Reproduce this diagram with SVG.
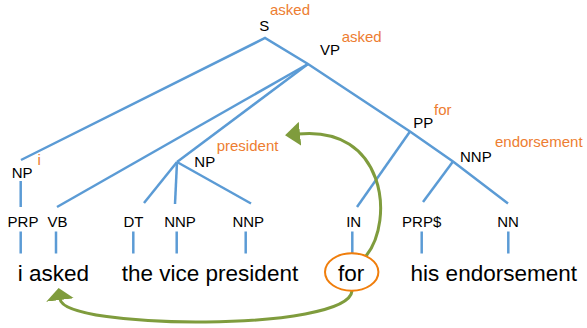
<svg xmlns="http://www.w3.org/2000/svg" width="587" height="328" viewBox="0 0 587 328">
<style>
.e{stroke:#5B9BD5;stroke-width:2.5;fill:none;stroke-linecap:butt}
.lab{font-family:"Liberation Sans",Arial,sans-serif;font-size:15px;fill:#000}
.sup{font-family:"Liberation Sans",Arial,sans-serif;font-size:15px;fill:#ED7D31}
.w{font-family:"Liberation Sans",Arial,sans-serif;font-size:22.5px;fill:#000;text-anchor:middle}
.pos{text-anchor:middle}
.g{stroke:#7F9C3D;stroke-width:3;fill:none}
</style>
<defs>
<marker id="ah" markerUnits="userSpaceOnUse" markerWidth="16" markerHeight="24" viewBox="0 0 16 24" refX="2" refY="12" orient="auto">
<path d="M0,0 L15,12 L0,24 z" fill="#7F9C3D"/>
</marker>
<marker id="ah2" markerUnits="userSpaceOnUse" markerWidth="14" markerHeight="28" viewBox="0 0 14 28" refX="1" refY="14" orient="auto">
<path d="M0,0 L12,14 L0,28 z" fill="#7F9C3D"/>
</marker>
</defs>
<g id="connectors">
<polyline class="e" points="21,160 265,38 308,64 410,131.5 453,161.5 508,203.5"/>
<line class="e" x1="308" y1="64" x2="57" y2="207"/>
<line class="e" x1="308" y1="64" x2="177" y2="162"/>
<line class="e" x1="177" y1="162" x2="144" y2="203"/>
<line class="e" x1="177" y1="162" x2="175" y2="204"/>
<line class="e" x1="177" y1="162" x2="251" y2="203.5"/>
<line class="e" x1="410" y1="131.5" x2="357" y2="207"/>
<line class="e" x1="453" y1="161.5" x2="423" y2="202"/>
<line class="e" x1="20.7" y1="181" x2="20.7" y2="207"/>
<line class="e" x1="20.7" y1="231.5" x2="20.7" y2="253.5"/>
<line class="e" x1="56" y1="231.5" x2="56" y2="253.5"/>
<line class="e" x1="133.3" y1="231.5" x2="133.3" y2="253.5"/>
<line class="e" x1="176.7" y1="231.5" x2="176.7" y2="253.5"/>
<line class="e" x1="245.7" y1="231.5" x2="245.7" y2="253.5"/>
<line class="e" x1="352.3" y1="231.5" x2="352.3" y2="253.5"/>
<line class="e" x1="421.7" y1="231.5" x2="421.7" y2="253.5"/>
<line class="e" x1="508.3" y1="231.5" x2="508.3" y2="253.5"/>
<path class="g" d="M366,256 C395,220 385,125 298,134" marker-end="url(#ah)"/>
<path class="g" d="M352,291 C348,332 64,330 60,299" marker-end="url(#ah2)"/>
</g>
<g id="S"><text class="lab" x="259.3" y="30.7">S</text><text class="sup" x="270" y="15">asked</text></g>
<g id="VP"><text class="lab" x="320" y="55">VP</text><text class="sup" x="341.7" y="41.7">asked</text></g>
<g id="NP_i"><text class="lab" x="11.7" y="178.3">NP</text><text class="sup" x="37.5" y="165">i</text></g>
<g id="NP_president"><text class="lab" x="194.3" y="167.3">NP</text><text class="sup" x="216.7" y="150.7">president</text></g>
<g id="PP"><text class="lab" x="413.3" y="128.3">PP</text><text class="sup" x="434" y="115">for</text></g>
<g id="NNP_endorsement"><text class="lab" x="460" y="161.7">NNP</text><text class="sup" x="495" y="146.7">endorsement</text></g>
<g id="PRP"><text class="lab pos" x="23" y="226.7">PRP</text></g>
<g id="VB"><text class="lab pos" x="57.5" y="226.7">VB</text></g>
<g id="DT"><text class="lab pos" x="133.5" y="226.7">DT</text></g>
<g id="NNP1"><text class="lab pos" x="180" y="226.7">NNP</text></g>
<g id="NNP2"><text class="lab pos" x="248.3" y="226.7">NNP</text></g>
<g id="IN"><text class="lab pos" x="353.7" y="226.7">IN</text></g>
<g id="PRPS"><text class="lab pos" x="421.7" y="226.7">PRP$</text></g>
<g id="NN"><text class="lab pos" x="508" y="226.7">NN</text></g>
<g id="w_i_asked"><text class="w" x="53.3" y="281">i asked</text></g>
<g id="w_the_vice_president"><text class="w" x="210" y="281">the vice president</text></g>
<g id="w_for"><ellipse cx="351.7" cy="272" rx="26.7" ry="18.7" fill="none" stroke="#F07E0C" stroke-width="2"/><text class="w" x="351.2" y="281">for</text></g>
<g id="w_his_endorsement"><text class="w" x="493.8" y="281">his endorsement</text></g>
</svg>
